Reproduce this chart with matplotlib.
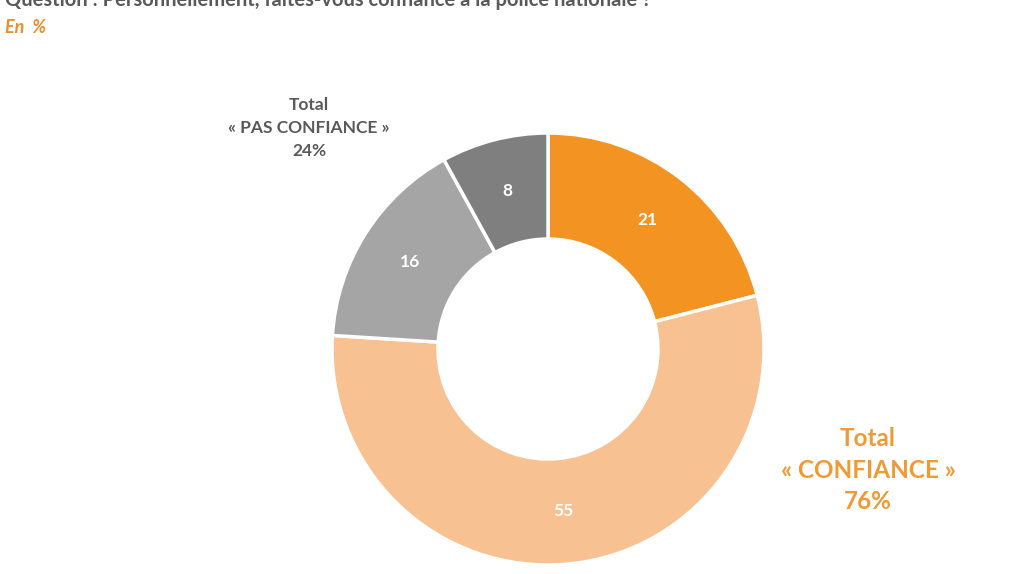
import matplotlib
matplotlib.use('Agg')
import matplotlib.pyplot as plt

plt.rcParams['font.family'] = ['Lato', 'DejaVu Sans']

# slices clockwise from the top
values = [21, 55, 16, 8]
labels = ['21', '55', '16', '8']
colors = ['#F39322', '#F8C192', '#A5A5A5', '#7F7F7F']

question = 'Question : Personnellement, faites-vous confiance à la police nationale ?'
subtitle = 'En  %'
total_yes = 'Total\n« CONFIANCE »\n76%'
total_no = 'Total\n« PAS CONFIANCE »\n24%'

W, H = 1021, 574
fig = plt.figure(figsize=(W / 100, H / 100), dpi=100)
ax = fig.add_axes([0, 0, 1, 1])

cx, cy = 548, H - 349
R, r = 216, 110

wedges, texts = ax.pie(values, colors=colors, startangle=90, counterclock=False,
                       radius=R, center=(cx, cy), labels=labels,
                       labeldistance=(R + r) / 2 / R,
                       wedgeprops=dict(width=R - r, edgecolor='white', linewidth=2.5),
                       textprops=dict(color='white', fontsize=12.5, fontweight='bold',
                                      ha='center', va='center'))

ax.set_xlim(0, W)
ax.set_ylim(0, H)
ax.set_aspect('equal')
ax.axis('off')

# the question line is clipped at the top edge, as in the source image
fig.text(5 / W, 1 - 6 / H, question, color='#595959', fontsize=14.5, fontweight='bold',
         ha='left', va='baseline')
fig.text(5 / W, 1 - 33 / H, subtitle, color='#E8902E', fontsize=13, fontweight='bold',
         style='italic', ha='left', va='baseline')

fig.text(309 / W, 1 - 128 / H, total_no, color='#595959', fontsize=12.5,
         fontweight='bold', ha='center', va='center', linespacing=1.55)
fig.text(868 / W, 1 - 470 / H, total_yes, color='#EE9A35', fontsize=17.5,
         fontweight='bold', ha='center', va='center', linespacing=1.45)

fig.savefig('out.png', dpi=100, facecolor='white')
